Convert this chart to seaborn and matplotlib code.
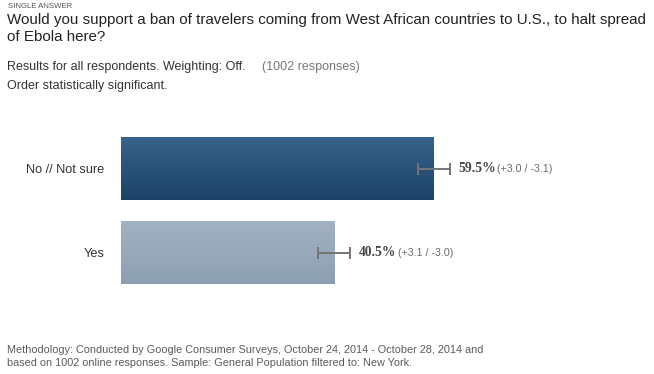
import numpy as np
import pandas as pd
import matplotlib
matplotlib.use("Agg")
import matplotlib.pyplot as plt
import seaborn as sns
from matplotlib.colors import LinearSegmentedColormap

# data
categories = ["No // Not sure", "Yes"]
values = [59.5, 40.5]
err_plus = [3.0, 3.1]
err_minus = [3.1, 3.0]

top_colors = ["#386289", "#a2b2c2"]
bottom_colors = ["#1d4368", "#8c9fb2"]

W, H = 654, 374
sns.set_theme(style="white")
plt.rcParams["font.family"] = ["Liberation Sans", "DejaVu Sans"]

fig = plt.figure(figsize=(W / 100, H / 100), dpi=100)
ax = fig.add_axes([121 / W, (H - 294.5) / H, 526 / W, 168 / H])

df = pd.DataFrame({"answer": categories, "pct": values})
sns.barplot(data=df, x="pct", y="answer", hue="answer", orient="h",
            palette=bottom_colors, width=0.75, legend=False, ax=ax)

# vertical gradient fill inside each bar
for patch, c0, c1 in zip(ax.patches, top_colors, bottom_colors):
    x0, y0 = patch.get_x(), patch.get_y()
    w, h = patch.get_width(), patch.get_height()
    cmap = LinearSegmentedColormap.from_list("g", [c0, c1])
    grad = np.linspace(0, 1, 64).reshape(-1, 1)
    ax.imshow(grad, cmap=cmap, aspect="auto", extent=(x0, x0 + w, y0 + h, y0),
              origin="upper", zorder=patch.get_zorder() + 0.1)
    patch.set_edgecolor("none")
ax.set_xlim(0, 100)
ax.set_ylim(1.5, -0.5)

ypos = np.arange(len(categories))
ax.errorbar(values, ypos, xerr=[err_minus, err_plus], fmt="none",
            ecolor="#747474", elinewidth=1.4, capsize=4.4, capthick=1.4, zorder=5)

for y, v, p, m in zip(ypos, values, err_plus, err_minus):
    ax.annotate(f"{v}%", xy=(v + p, y), xytext=(6.5, 0), textcoords="offset points",
                ha="left", va="center", fontsize=9.8, fontweight="bold",
                family=["Liberation Serif", "DejaVu Serif"], color="#444444")
    ax.annotate(f"(+{p} / -{m})", xy=(v + p, y), xytext=(34, 0), textcoords="offset points",
                ha="left", va="center", fontsize=7.7, color="#6a6a6a")

ax.set_xlabel("")
ax.set_ylabel("")
ax.set_xticks([])
ax.tick_params(axis="y", length=0, pad=12, labelsize=9.2, labelcolor="#333333")
sns.despine(ax=ax, left=True, bottom=True)

def ftext(x, y, s, **kw):
    fig.text(x / W, 1 - y / H, s, va="top", ha="left", **kw)

ftext(8, 3, "SINGLE ANSWER", fontsize=5.6, color="#555555")
ftext(7, 13, "Would you support a ban of travelers coming from West African countries to U.S., to halt spread\nof Ebola here?",
      fontsize=10.9, color="#222222", linespacing=1.25)
ftext(7, 61, "Results for all respondents. Weighting: Off.", fontsize=9, color="#333333")
ftext(262, 61, "(1002 responses)", fontsize=9, color="#777777")
ftext(7, 80, "Order statistically significant.", fontsize=9, color="#333333")
ftext(7, 345, "Methodology: Conducted by Google Consumer Surveys, October 24, 2014 - October 28, 2014 and\nbased on 1002 online responses. Sample: General Population filtered to: New York.",
      fontsize=7.8, color="#5a5a5a", linespacing=1.35)

fig.savefig("out.png", dpi=100)
